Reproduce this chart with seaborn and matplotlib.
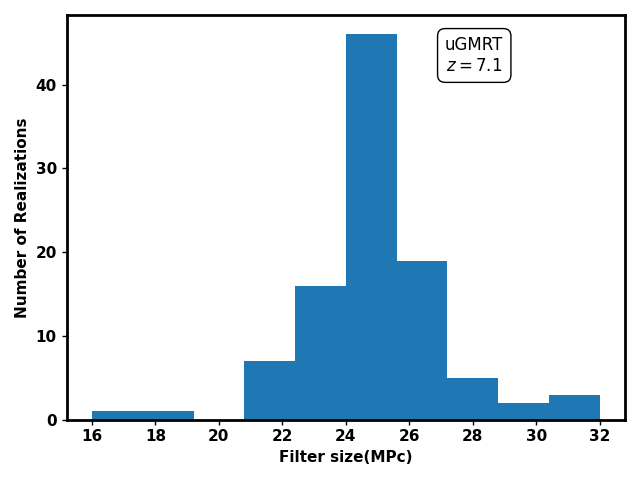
import numpy as np
import matplotlib
matplotlib.use('Agg')
import matplotlib.pyplot as plt
import seaborn as sns

# Histogram of filter sizes (10 bins between 16 and 32 MPc)
bin_edges = [16.0, 17.6, 19.2, 20.8, 22.4, 24.0, 25.6, 27.2, 28.8, 30.4, 32.0]
counts = [1, 1, 0, 7, 16, 46, 19, 5, 2, 3]
centers = [(a + b) / 2 for a, b in zip(bin_edges[:-1], bin_edges[1:])]

sns.set_style('ticks')
plt.rcParams['font.family'] = ['DejaVu Sans']
plt.rcParams['text.color'] = 'black'
plt.rcParams['axes.labelcolor'] = 'black'

fig, ax = plt.subplots(figsize=(6.4, 4.8), dpi=100)
sns.histplot(x=centers, weights=counts, bins=bin_edges, ax=ax,
             color='#1f77b4', alpha=1.0, edgecolor='none', linewidth=0)

ax.set_xlabel('Filter size(MPc)', fontsize=11, fontweight='bold', color='black')
ax.set_ylabel('Number of Realizations', fontsize=11, fontweight='bold', color='black')
ax.set_xticks([16, 18, 20, 22, 24, 26, 28, 30, 32])
ax.set_yticks([0, 10, 20, 30, 40])
for lab in ax.get_xticklabels() + ax.get_yticklabels():
    lab.set_fontweight('bold')
    lab.set_fontsize(11)
for sp in ax.spines.values():
    sp.set_visible(True)
    sp.set_linewidth(2)
    sp.set_color('black')
ax.tick_params(width=1, length=3.5, colors='black')

ax.text(0.73, 0.9, 'uGMRT\n$z = 7.1$', transform=ax.transAxes,
        ha='center', va='center', fontsize=12, color='black',
        bbox=dict(boxstyle='round,pad=0.45', facecolor='white', edgecolor='black'))

plt.tight_layout()
plt.savefig('out.png', dpi=100)
